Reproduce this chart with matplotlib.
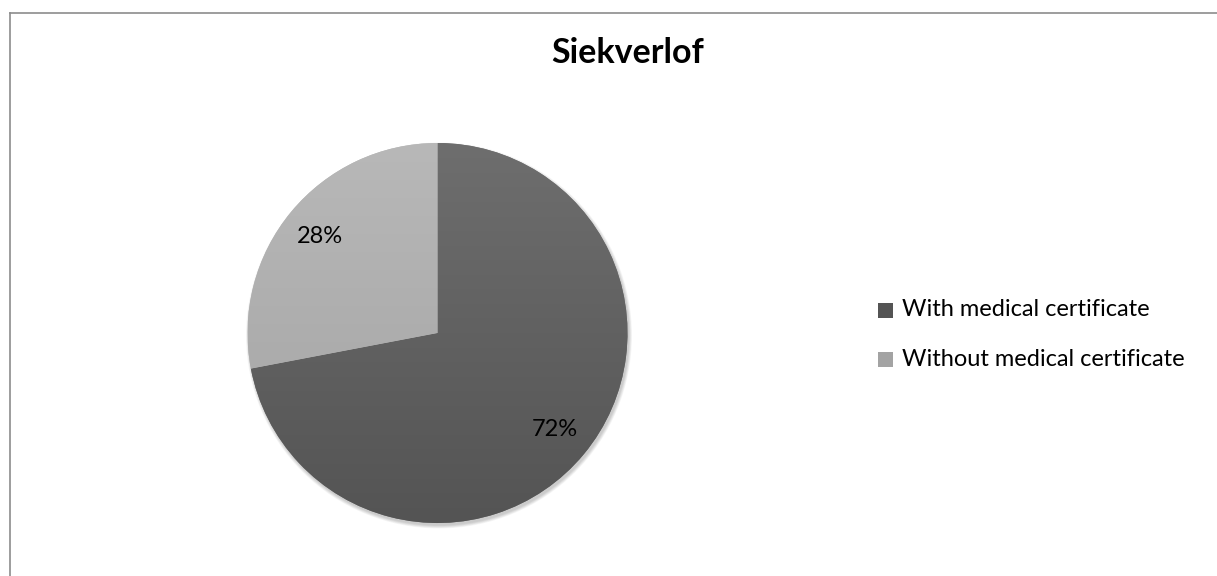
import numpy as np
import matplotlib
matplotlib.use("Agg")
import matplotlib.pyplot as plt
from matplotlib.patches import Rectangle, Circle

title = "Siekverlof"
categories = ["With medical certificate", "Without medical certificate"]
values = [72, 28]
pct_labels = ["72%", "28%"]
top_colors = ["#6e6e6e", "#b8b8b8"]
bottom_colors = ["#545454", "#a3a3a3"]

plt.rcParams['font.family'] = ['Lato', 'DejaVu Sans']

W, H = 1217, 576
fig = plt.figure(figsize=(W / 100, H / 100), dpi=100)
ax = fig.add_axes([0, 0, 1, 1])

cx, cy, r = 437.5, 576 - 333, 190

# soft shadow
for i in range(6):
    ax.add_patch(Circle((cx + 1.5, cy - 2.5), r + 3 - i * 0.6, color="black",
                        alpha=0.035, lw=0, zorder=1))

wedges, _ = ax.pie(values, startangle=90, counterclock=False, center=(cx, cy),
                   radius=r, colors=top_colors, frame=True,
                   wedgeprops=dict(linewidth=0), normalize=True)
ax.set_xlim(0, W)
ax.set_ylim(0, H)
ax.set_aspect('equal')
ax.axis('off')

# chart border (left and top edges visible)
ax.plot([9.5, 9.5], [-5, H - 12.5], color="#8c8c8c", lw=1.2)
ax.plot([9.5, W + 5], [H - 12.5, H - 12.5], color="#8c8c8c", lw=1.2)

# vertical gradients clipped to wedges
for w, ct, cb in zip(wedges, top_colors, bottom_colors):
    w.set_zorder(2)
    t = matplotlib.colors.to_rgb(ct)
    b = matplotlib.colors.to_rgb(cb)
    n = 256
    s = np.linspace(0, 1, n)[:, None]
    grad = np.array(t)[None, :] * (1 - s) + np.array(b)[None, :] * s
    img = np.repeat(grad[:, None, :], 2, axis=1)
    im = ax.imshow(img, extent=(cx - r, cx + r, cy - r, cy + r), origin='upper',
                   aspect='auto', zorder=3, interpolation='bilinear')
    im.set_clip_path(w)

# percentage labels
total = sum(values)
start = 90.0
for v, lab in zip(values, pct_labels):
    mid = start - 360 * v / total / 2
    start -= 360 * v / total
    rad = np.deg2rad(mid)
    ax.text(cx + 0.8 * r * np.cos(rad), cy + 0.8 * r * np.sin(rad), lab,
            ha='center', va='center', fontsize=17, color='black', zorder=5)

ax.set_xlim(0, W)
ax.set_ylim(0, H)

# title
ax.text(628, H - 63, title, ha='center', va='baseline', fontsize=24.5,
        fontweight='bold', color='black')

# legend
leg_y = [H - 310, H - 359]
for y, ct, cb, cat in zip(leg_y, top_colors, bottom_colors, categories):
    ax.add_patch(Rectangle((878, y - 7.5), 15, 15, facecolor=cb, edgecolor='none'))
    ax.text(902, y, cat, ha='left', va='center', fontsize=17, color='black')

fig.savefig("out.png", dpi=100)
